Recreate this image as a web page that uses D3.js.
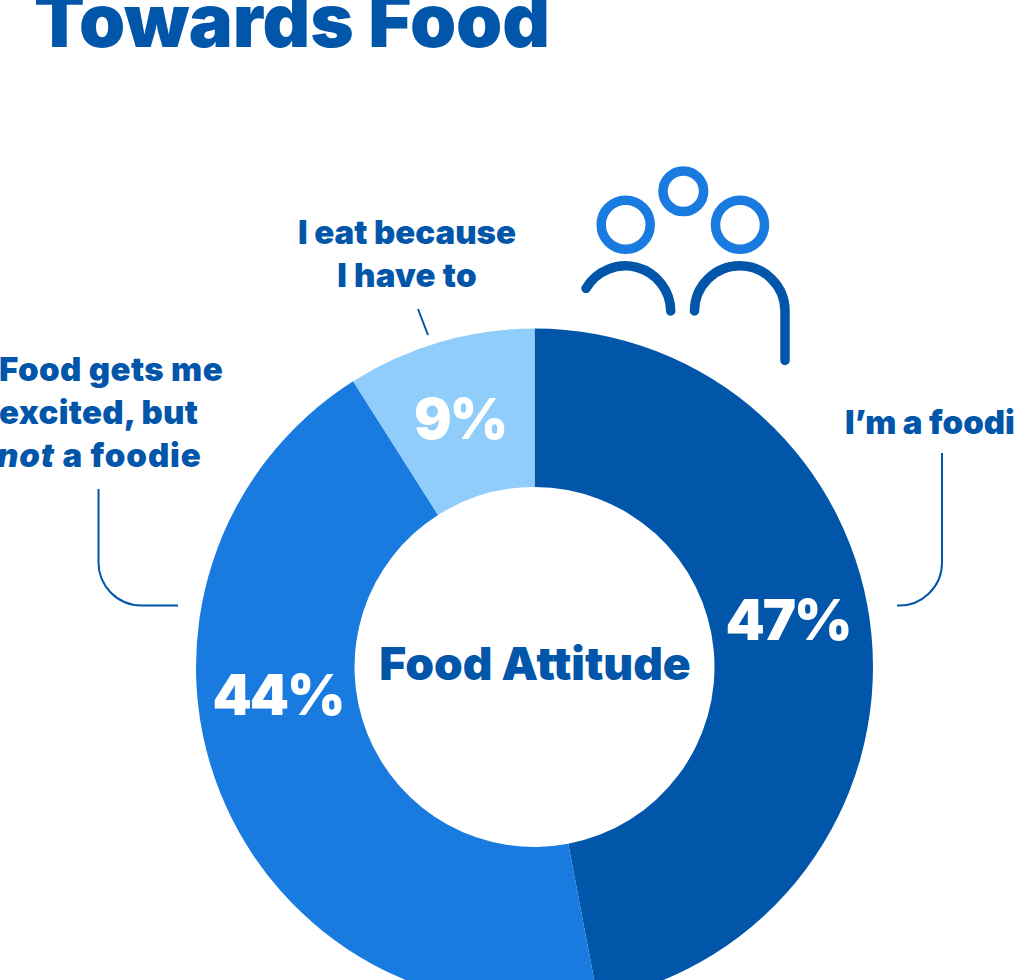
<!DOCTYPE html>
<html>
<head>
<meta charset="utf-8">
<script src="https://cdn.jsdelivr.net/npm/d3@7"></script>
<style>
html,body{margin:0;padding:0;background:#fff;overflow:hidden}
svg{display:block}
text{font-family:Inter,"Noto Sans",sans-serif;font-weight:900;fill:#0256a9}
</style>
</head>
<body>
<div id="chart"></div>
<script>
// Survey shares for the food attitude donut, clockwise from twelve o'clock
const categories = ["I\u2019m a foodie", "Food gets me excited, but not a foodie", "I eat because I have to"];
const shares = [47, 44, 9];
const sliceColors = ["#0256a9", "#197be0", "#90cdfb"];
const titleText = "Towards Food";
const centerText = "Food Attitude";

const width = 1015, height = 980;
const cx = 534.5, cy = 667, outerR = 338.5, innerR = 180;

const svg = d3.select("#chart").append("svg")
  .attr("width", width).attr("height", height);

svg.append("text").attr("x", 34).attr("y", 47)
  .attr("font-size", 74).attr("letter-spacing", -0.1)
  .text(titleText);

const pie = d3.pie().sort(null).value(d => d);
const arc = d3.arc().innerRadius(innerR).outerRadius(outerR);
const arcs = pie(shares);

const donut = svg.append("g").attr("transform", `translate(${cx},${cy})`);
donut.selectAll("path").data(arcs).join("path")
  .attr("d", arc)
  .attr("fill", (d, i) => sliceColors[i]);

// Percent labels sit inside their slices
const labelPos = [[788, 640], [278, 715], [460, 439]];
svg.selectAll("text.pct").data(arcs).join("text")
  .attr("class", "pct")
  .attr("x", (d, i) => labelPos[i][0])
  .attr("y", (d, i) => labelPos[i][1])
  .attr("text-anchor", "middle")
  .attr("font-size", 56).attr("letter-spacing", -2)
  .style("fill", "#fff")
  .text(d => d.data + "%");

svg.append("text").attr("x", 535).attr("y", 680)
  .attr("text-anchor", "middle").attr("font-size", 46)
  .text(centerText);

// Category captions
const captionLines = [
  {x: 845, y: 434, anchor: "start", spacing: 0, parts: [["I\u2019m a foodie", false]]},
  {x: -1, y: 381, anchor: "start", spacing: 0.4, parts: [["Food gets me", false]]},
  {x: -1, y: 424, anchor: "start", spacing: 0.3, parts: [["excited, but", false]]},
  {x: -3, y: 467, anchor: "start", spacing: 0.9, parts: [["not", true], [" a foodie", false]]},
  {x: 407, y: 244, anchor: "middle", spacing: 0, parts: [["I eat because", false]]},
  {x: 407, y: 287, anchor: "middle", spacing: 0.3, parts: [["I have to", false]]}
];
captionLines.forEach(l => {
  const t = svg.append("text").attr("x", l.x).attr("y", l.y)
    .attr("text-anchor", l.anchor).attr("font-size", 33)
    .attr("letter-spacing", l.spacing);
  l.parts.forEach(p => t.append("tspan")
    .style("font-style", p[1] ? "italic" : "normal").text(p[0]));
});

// Leader lines from captions toward the ring
const leaders = [
  "M942,453V562A43,43 0 0 1 897,605.5",
  "M98.5,489V562A43,43 0 0 0 141.5,605.5H178",
  "M418,309L428,335"
];
svg.selectAll("path.leader").data(leaders).join("path")
  .attr("class", "leader").attr("d", d => d)
  .attr("fill", "none").attr("stroke", "#0256a9").attr("stroke-width", 2);

// People icon above the ring
const heads = [
  {x: 625.7, y: 224.7, r: 24.5},
  {x: 683.3, y: 191.3, r: 20.3},
  {x: 740, y: 224.7, r: 24.5}
];
svg.selectAll("circle.head").data(heads).join("circle")
  .attr("class", "head")
  .attr("cx", d => d.x).attr("cy", d => d.y).attr("r", d => d.r)
  .attr("fill", "none").attr("stroke", "#197be0").attr("stroke-width", 9.5);
const shoulders = [
  "M586,288.3A45.5,45.5 0 0 1 670.7,311",
  "M694.5,311A45.2,45.2 0 0 1 785,311V360.5"
];
svg.selectAll("path.body").data(shoulders).join("path")
  .attr("class", "body").attr("d", d => d)
  .attr("fill", "none").attr("stroke", "#0256a9")
  .attr("stroke-width", 9.5).attr("stroke-linecap", "round");
</script>
</body>
</html>
